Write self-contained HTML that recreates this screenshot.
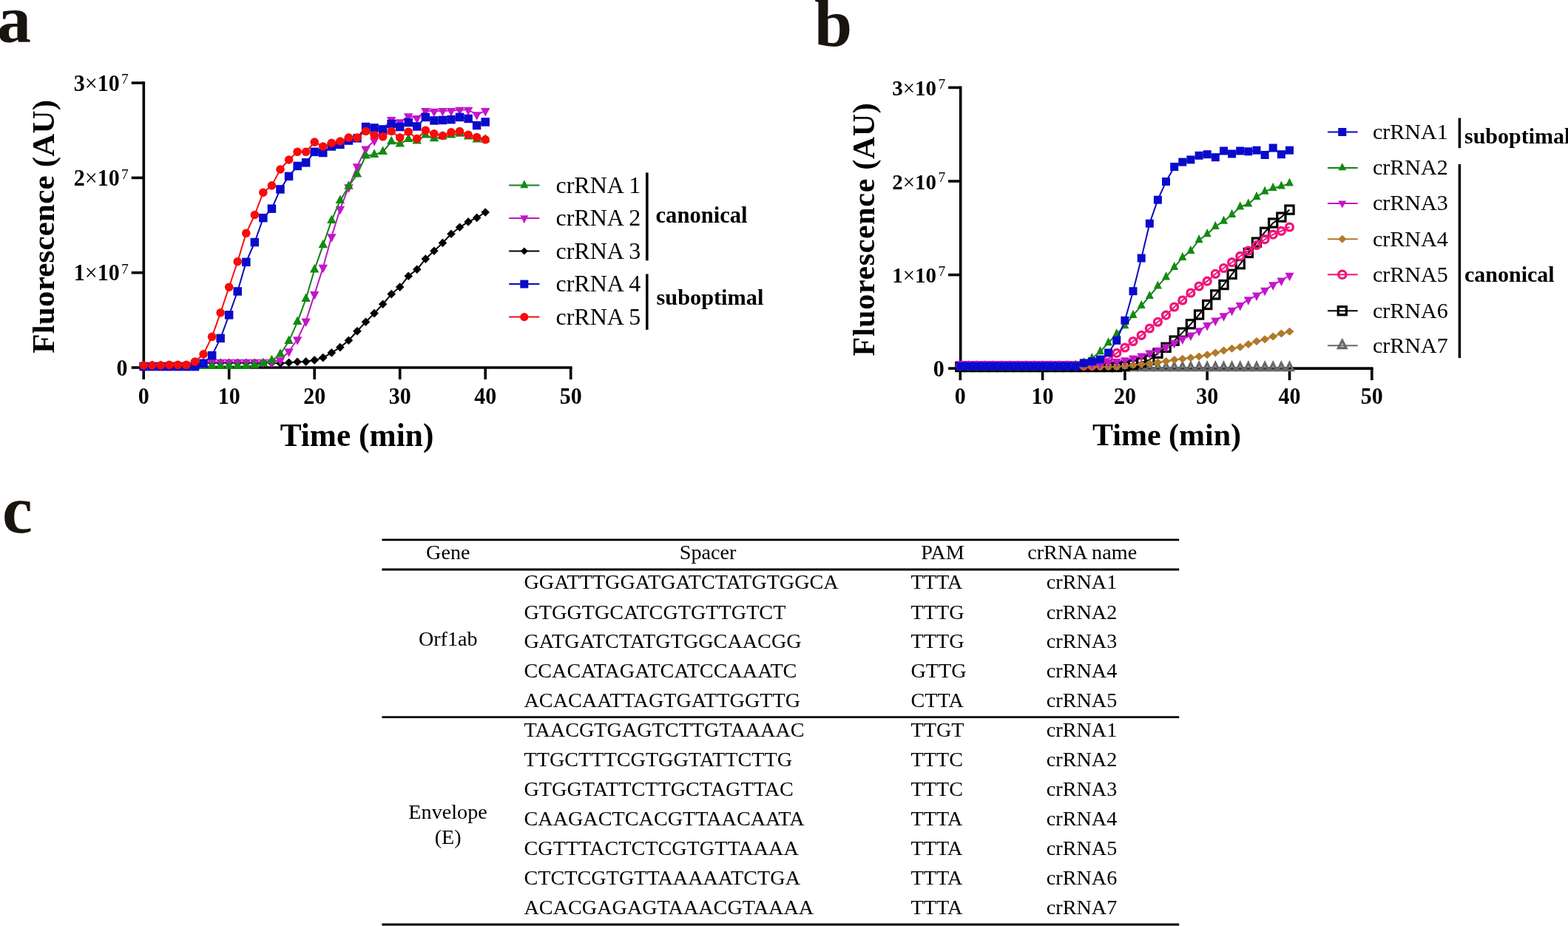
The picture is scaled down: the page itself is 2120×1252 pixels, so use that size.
<!DOCTYPE html>
<html><head><meta charset="utf-8"><title>Figure</title>
<style>
html,body{margin:0;padding:0;background:#fff;}
body{width:2120px;height:1252px;overflow:hidden;}
svg{display:block;}
text{font-family:"Liberation Serif","Times New Roman",serif;}
.b{font-weight:bold;}
</style></head><body>

<svg width="2120" height="1252" viewBox="0 0 2120 1252">
<rect width="2120" height="1252" fill="#fff"/>
<text x="-4" y="57" font-size="92" class="b" fill="#1a140e">a</text>
<text x="1101" y="62" font-size="92" class="b" fill="#1a140e">b</text>
<text x="3" y="719.5" font-size="92" class="b" fill="#1a140e">c</text>
<line x1="194.3" y1="110.3" x2="194.3" y2="498.8" stroke="#000" stroke-width="3.6"/><line x1="192.5" y1="497" x2="773.5" y2="497" stroke="#000" stroke-width="3.6"/><line x1="177.7" y1="112.1" x2="194.3" y2="112.1" stroke="#000" stroke-width="3.6"/><line x1="177.7" y1="240.4" x2="194.3" y2="240.4" stroke="#000" stroke-width="3.6"/><line x1="177.7" y1="368.7" x2="194.3" y2="368.7" stroke="#000" stroke-width="3.6"/><line x1="177.7" y1="497" x2="194.3" y2="497" stroke="#000" stroke-width="3.6"/><line x1="194.2" y1="497" x2="194.2" y2="513" stroke="#000" stroke-width="3.6"/><line x1="309.7" y1="497" x2="309.7" y2="513" stroke="#000" stroke-width="3.6"/><line x1="425.2" y1="497" x2="425.2" y2="513" stroke="#000" stroke-width="3.6"/><line x1="540.7" y1="497" x2="540.7" y2="513" stroke="#000" stroke-width="3.6"/><line x1="656.2" y1="497" x2="656.2" y2="513" stroke="#000" stroke-width="3.6"/><line x1="771.7" y1="497" x2="771.7" y2="513" stroke="#000" stroke-width="3.6"/>
<text transform="translate(161.7,122.7) scale(1,1.05)" text-anchor="end" font-size="30"><tspan class="b">3</tspan>×<tspan class="b">10</tspan></text><text x="164.1" y="113.4" font-size="19.5">7</text>
<text transform="translate(161.7,251) scale(1,1.05)" text-anchor="end" font-size="30"><tspan class="b">2</tspan>×<tspan class="b">10</tspan></text><text x="164.1" y="241.7" font-size="19.5">7</text>
<text transform="translate(161.7,379.3) scale(1,1.05)" text-anchor="end" font-size="30"><tspan class="b">1</tspan>×<tspan class="b">10</tspan></text><text x="164.1" y="370" font-size="19.5">7</text>
<text transform="translate(172.4,507.6) scale(1,1.07)" text-anchor="end" font-size="30" class="b">0</text>
<text transform="translate(194.2,545.7) scale(1,1.07)" text-anchor="middle" font-size="30" class="b">0</text>
<text transform="translate(309.7,545.7) scale(1,1.07)" text-anchor="middle" font-size="30" class="b">10</text>
<text transform="translate(425.2,545.7) scale(1,1.07)" text-anchor="middle" font-size="30" class="b">20</text>
<text transform="translate(540.7,545.7) scale(1,1.07)" text-anchor="middle" font-size="30" class="b">30</text>
<text transform="translate(656.2,545.7) scale(1,1.07)" text-anchor="middle" font-size="30" class="b">40</text>
<text transform="translate(771.7,545.7) scale(1,1.07)" text-anchor="middle" font-size="30" class="b">50</text>
<text x="482.5" y="602.5" text-anchor="middle" font-size="43.4" class="b">Time (min)</text>
<text transform="translate(73,306.2) rotate(-90)" text-anchor="middle" font-size="43" letter-spacing="0.2" class="b">Fluorescence (AU)</text>
<polyline fill="none" stroke="#000" stroke-width="2" stroke-linejoin="round" points="194.2,493.5 205.8,493.5 217.3,493.5 228.8,493.5 240.4,493.5 251.9,493.5 263.5,493.5 275.1,490.6 286.6,490.6 298.1,490.6 309.7,490.6 321.2,490.6 332.8,490.6 344.4,490.6 355.9,490.6 367.4,490.6 379,491.2 390.6,490.3 402.1,489.2 413.6,488.9 425.2,486.9 436.8,483.6 448.3,476.9 459.9,469.6 471.4,460.3 482.9,447.8 494.5,435.3 506.1,423.6 517.6,411.3 529.2,397.6 540.7,388.1 552.2,373.2 563.8,364.3 575.4,350.1 586.9,339.2 598.5,328.4 610,316.2 621.5,307.3 633.1,299.9 644.7,294.4 656.2,287"/><polygon points="194.2,487.7 200,493.5 194.2,499.3 188.4,493.5" fill="#000"/><polygon points="205.8,487.7 211.6,493.5 205.8,499.3 199.9,493.5" fill="#000"/><polygon points="217.3,487.7 223.1,493.5 217.3,499.3 211.5,493.5" fill="#000"/><polygon points="228.8,487.7 234.7,493.5 228.8,499.3 223,493.5" fill="#000"/><polygon points="240.4,487.7 246.2,493.5 240.4,499.3 234.6,493.5" fill="#000"/><polygon points="251.9,487.7 257.8,493.5 251.9,499.3 246.1,493.5" fill="#000"/><polygon points="263.5,487.7 269.3,493.5 263.5,499.3 257.7,493.5" fill="#000"/><polygon points="275.1,484.8 280.9,490.6 275.1,496.4 269.2,490.6" fill="#000"/><polygon points="286.6,484.8 292.4,490.6 286.6,496.4 280.8,490.6" fill="#000"/><polygon points="298.1,484.8 303.9,490.6 298.1,496.4 292.3,490.6" fill="#000"/><polygon points="309.7,484.8 315.5,490.6 309.7,496.4 303.9,490.6" fill="#000"/><polygon points="321.2,484.8 327.1,490.6 321.2,496.4 315.4,490.6" fill="#000"/><polygon points="332.8,484.8 338.6,490.6 332.8,496.4 327,490.6" fill="#000"/><polygon points="344.4,484.8 350.2,490.6 344.4,496.4 338.6,490.6" fill="#000"/><polygon points="355.9,484.8 361.7,490.6 355.9,496.4 350.1,490.6" fill="#000"/><polygon points="367.4,484.8 373.2,490.6 367.4,496.4 361.6,490.6" fill="#000"/><polygon points="379,485.4 384.8,491.2 379,497 373.2,491.2" fill="#000"/><polygon points="390.6,484.5 396.4,490.3 390.6,496.1 384.8,490.3" fill="#000"/><polygon points="402.1,483.4 407.9,489.2 402.1,495 396.3,489.2" fill="#000"/><polygon points="413.6,483.1 419.4,488.9 413.6,494.7 407.8,488.9" fill="#000"/><polygon points="425.2,481.1 431,486.9 425.2,492.7 419.4,486.9" fill="#000"/><polygon points="436.8,477.8 442.6,483.6 436.8,489.4 430.9,483.6" fill="#000"/><polygon points="448.3,471.1 454.1,476.9 448.3,482.7 442.5,476.9" fill="#000"/><polygon points="459.9,463.8 465.7,469.6 459.9,475.4 454.1,469.6" fill="#000"/><polygon points="471.4,454.5 477.2,460.3 471.4,466.1 465.6,460.3" fill="#000"/><polygon points="482.9,442 488.8,447.8 482.9,453.6 477.1,447.8" fill="#000"/><polygon points="494.5,429.5 500.3,435.3 494.5,441.1 488.7,435.3" fill="#000"/><polygon points="506.1,417.8 511.9,423.6 506.1,429.4 500.2,423.6" fill="#000"/><polygon points="517.6,405.5 523.4,411.3 517.6,417.1 511.8,411.3" fill="#000"/><polygon points="529.2,391.8 535,397.6 529.2,403.4 523.4,397.6" fill="#000"/><polygon points="540.7,382.3 546.5,388.1 540.7,393.9 534.9,388.1" fill="#000"/><polygon points="552.2,367.4 558,373.2 552.2,379 546.5,373.2" fill="#000"/><polygon points="563.8,358.5 569.6,364.3 563.8,370.1 558,364.3" fill="#000"/><polygon points="575.4,344.3 581.1,350.1 575.4,355.9 569.6,350.1" fill="#000"/><polygon points="586.9,333.4 592.7,339.2 586.9,345 581.1,339.2" fill="#000"/><polygon points="598.5,322.6 604.2,328.4 598.5,334.2 592.7,328.4" fill="#000"/><polygon points="610,310.4 615.8,316.2 610,322 604.2,316.2" fill="#000"/><polygon points="621.5,301.5 627.3,307.3 621.5,313.1 615.8,307.3" fill="#000"/><polygon points="633.1,294.1 638.9,299.9 633.1,305.7 627.3,299.9" fill="#000"/><polygon points="644.7,288.6 650.5,294.4 644.7,300.2 638.9,294.4" fill="#000"/><polygon points="656.2,281.2 662,287 656.2,292.8 650.4,287" fill="#000"/>
<polyline fill="none" stroke="#bb1ac4" stroke-width="2" stroke-linejoin="round" points="194.2,493.5 205.8,493.5 217.3,493.5 228.8,493.5 240.4,493.5 251.9,493.5 263.5,493.5 275.1,489.6 286.6,489.6 298.1,489.6 309.7,489.6 321.2,489.6 332.8,489.6 344.4,489.6 355.9,489.6 367.4,489.6 379,487 390.6,475 402.1,459 413.6,434.3 425.2,397.9 436.8,361.6 448.3,320 459.9,282.6 471.4,253 482.9,225.1 494.5,201.3 506.1,190.1 517.6,175 529.2,161.7 540.7,165 552.2,157.1 563.8,159.7 575.4,149.8 586.9,150.5 598.5,149.8 610,149.8 621.5,148.5 633.1,148.5 644.7,155.1 656.2,149.8"/><polygon points="194.2,501.2 187.9,489.7 200.4,489.7" fill="#c414cc"/><polygon points="205.8,501.2 199.5,489.7 212,489.7" fill="#c414cc"/><polygon points="217.3,501.2 211,489.7 223.5,489.7" fill="#c414cc"/><polygon points="228.8,501.2 222.6,489.7 235.1,489.7" fill="#c414cc"/><polygon points="240.4,501.2 234.1,489.7 246.6,489.7" fill="#c414cc"/><polygon points="251.9,501.2 245.7,489.7 258.2,489.7" fill="#c414cc"/><polygon points="263.5,501.2 257.2,489.7 269.8,489.7" fill="#c414cc"/><polygon points="275.1,497.3 268.8,485.8 281.3,485.8" fill="#c414cc"/><polygon points="286.6,497.3 280.4,485.8 292.9,485.8" fill="#c414cc"/><polygon points="298.1,497.3 291.9,485.8 304.4,485.8" fill="#c414cc"/><polygon points="309.7,497.3 303.4,485.8 315.9,485.8" fill="#c414cc"/><polygon points="321.2,497.3 315,485.8 327.5,485.8" fill="#c414cc"/><polygon points="332.8,497.3 326.6,485.8 339.1,485.8" fill="#c414cc"/><polygon points="344.4,497.3 338.1,485.8 350.6,485.8" fill="#c414cc"/><polygon points="355.9,497.3 349.6,485.8 362.1,485.8" fill="#c414cc"/><polygon points="367.4,497.3 361.2,485.8 373.7,485.8" fill="#c414cc"/><polygon points="379,494.7 372.8,483.2 385.2,483.2" fill="#c414cc"/><polygon points="390.6,482.7 384.3,471.2 396.8,471.2" fill="#c414cc"/><polygon points="402.1,466.7 395.9,455.2 408.4,455.2" fill="#c414cc"/><polygon points="413.6,442 407.4,430.5 419.9,430.5" fill="#c414cc"/><polygon points="425.2,405.6 418.9,394.1 431.4,394.1" fill="#c414cc"/><polygon points="436.8,369.3 430.5,357.8 443,357.8" fill="#c414cc"/><polygon points="448.3,327.7 442.1,316.2 454.6,316.2" fill="#c414cc"/><polygon points="459.9,290.3 453.6,278.8 466.1,278.8" fill="#c414cc"/><polygon points="471.4,260.7 465.2,249.2 477.7,249.2" fill="#c414cc"/><polygon points="482.9,232.8 476.7,221.3 489.2,221.3" fill="#c414cc"/><polygon points="494.5,209 488.2,197.5 500.8,197.5" fill="#c414cc"/><polygon points="506.1,197.8 499.8,186.3 512.3,186.3" fill="#c414cc"/><polygon points="517.6,182.7 511.4,171.2 523.9,171.2" fill="#c414cc"/><polygon points="529.2,169.4 522.9,157.9 535.4,157.9" fill="#c414cc"/><polygon points="540.7,172.7 534.5,161.2 547,161.2" fill="#c414cc"/><polygon points="552.2,164.8 546,153.3 558.5,153.3" fill="#c414cc"/><polygon points="563.8,167.4 557.5,155.9 570,155.9" fill="#c414cc"/><polygon points="575.4,157.5 569.1,146 581.6,146" fill="#c414cc"/><polygon points="586.9,158.2 580.7,146.7 593.2,146.7" fill="#c414cc"/><polygon points="598.5,157.5 592.2,146 604.7,146" fill="#c414cc"/><polygon points="610,157.5 603.8,146 616.2,146" fill="#c414cc"/><polygon points="621.5,156.2 615.3,144.7 627.8,144.7" fill="#c414cc"/><polygon points="633.1,156.2 626.9,144.7 639.4,144.7" fill="#c414cc"/><polygon points="644.7,162.8 638.4,151.3 650.9,151.3" fill="#c414cc"/><polygon points="656.2,157.5 650,146 662.5,146" fill="#c414cc"/>
<polyline fill="none" stroke="#178017" stroke-width="2" stroke-linejoin="round" points="194.2,495.3 205.8,495.3 217.3,495.3 228.8,495.3 240.4,495.3 251.9,495.3 263.5,495.3 275.1,495.3 286.6,495.3 298.1,495.3 309.7,495.3 321.2,495.3 332.8,495.3 344.4,494 355.9,491.3 367.4,487.5 379,479 390.6,461.3 402.1,435.3 413.6,404.2 425.2,364.7 436.8,331.4 448.3,298.2 459.9,271.2 471.4,252 482.9,235.7 494.5,210.6 506.1,209.2 517.6,205.3 529.2,191.4 540.7,194.7 552.2,188.1 563.8,190.8 575.4,182.8 586.9,187.5 598.5,184.8 610,182.8 621.5,180.9 633.1,184.8 644.7,188.8 656.2,188.8"/><polygon points="194.2,487.6 187.9,499.1 200.4,499.1" fill="#128a12"/><polygon points="205.8,487.6 199.5,499.1 212,499.1" fill="#128a12"/><polygon points="217.3,487.6 211,499.1 223.5,499.1" fill="#128a12"/><polygon points="228.8,487.6 222.6,499.1 235.1,499.1" fill="#128a12"/><polygon points="240.4,487.6 234.1,499.1 246.6,499.1" fill="#128a12"/><polygon points="251.9,487.6 245.7,499.1 258.2,499.1" fill="#128a12"/><polygon points="263.5,487.6 257.2,499.1 269.8,499.1" fill="#128a12"/><polygon points="275.1,487.6 268.8,499.1 281.3,499.1" fill="#128a12"/><polygon points="286.6,487.6 280.4,499.1 292.9,499.1" fill="#128a12"/><polygon points="298.1,487.6 291.9,499.1 304.4,499.1" fill="#128a12"/><polygon points="309.7,487.6 303.4,499.1 315.9,499.1" fill="#128a12"/><polygon points="321.2,487.6 315,499.1 327.5,499.1" fill="#128a12"/><polygon points="332.8,487.6 326.6,499.1 339.1,499.1" fill="#128a12"/><polygon points="344.4,486.3 338.1,497.8 350.6,497.8" fill="#128a12"/><polygon points="355.9,483.6 349.6,495.1 362.1,495.1" fill="#128a12"/><polygon points="367.4,479.8 361.2,491.3 373.7,491.3" fill="#128a12"/><polygon points="379,471.3 372.8,482.8 385.2,482.8" fill="#128a12"/><polygon points="390.6,453.6 384.3,465.1 396.8,465.1" fill="#128a12"/><polygon points="402.1,427.6 395.9,439.1 408.4,439.1" fill="#128a12"/><polygon points="413.6,396.5 407.4,408 419.9,408" fill="#128a12"/><polygon points="425.2,357 418.9,368.5 431.4,368.5" fill="#128a12"/><polygon points="436.8,323.7 430.5,335.2 443,335.2" fill="#128a12"/><polygon points="448.3,290.5 442.1,302 454.6,302" fill="#128a12"/><polygon points="459.9,263.5 453.6,275 466.1,275" fill="#128a12"/><polygon points="471.4,244.3 465.2,255.8 477.7,255.8" fill="#128a12"/><polygon points="482.9,228 476.7,239.5 489.2,239.5" fill="#128a12"/><polygon points="494.5,202.9 488.2,214.4 500.8,214.4" fill="#128a12"/><polygon points="506.1,201.5 499.8,213 512.3,213" fill="#128a12"/><polygon points="517.6,197.6 511.4,209.1 523.9,209.1" fill="#128a12"/><polygon points="529.2,183.7 522.9,195.2 535.4,195.2" fill="#128a12"/><polygon points="540.7,187 534.5,198.5 547,198.5" fill="#128a12"/><polygon points="552.2,180.4 546,191.9 558.5,191.9" fill="#128a12"/><polygon points="563.8,183.1 557.5,194.6 570,194.6" fill="#128a12"/><polygon points="575.4,175.1 569.1,186.6 581.6,186.6" fill="#128a12"/><polygon points="586.9,179.8 580.7,191.3 593.2,191.3" fill="#128a12"/><polygon points="598.5,177.1 592.2,188.6 604.7,188.6" fill="#128a12"/><polygon points="610,175.1 603.8,186.6 616.2,186.6" fill="#128a12"/><polygon points="621.5,173.2 615.3,184.7 627.8,184.7" fill="#128a12"/><polygon points="633.1,177.1 626.9,188.6 639.4,188.6" fill="#128a12"/><polygon points="644.7,181.1 638.4,192.6 650.9,192.6" fill="#128a12"/><polygon points="656.2,181.1 650,192.6 662.5,192.6" fill="#128a12"/>
<polyline fill="none" stroke="#0a0ac0" stroke-width="2" stroke-linejoin="round" points="194.2,495.6 205.8,495.6 217.3,495.6 228.8,495.6 240.4,495.6 251.9,495.6 263.5,495.6 275.1,491.3 286.6,480.6 298.1,457.4 309.7,425.8 321.2,394 332.8,354.4 344.4,327.5 355.9,294.7 367.4,282.2 379,255.9 390.6,238.3 402.1,224.4 413.6,219.8 425.2,205.3 436.8,206.6 448.3,198 459.9,195.4 471.4,190.1 482.9,186.8 494.5,171.6 506.1,172.9 517.6,174.9 529.2,167.6 540.7,171.6 552.2,165.7 563.8,170.9 575.4,158.4 586.9,163 598.5,162.4 610,161.7 621.5,158.4 633.1,160.4 644.7,169.6 656.2,165"/><rect x="188.4" y="489.9" width="11.5" height="11.5" fill="#0a0acc"/><rect x="200" y="489.9" width="11.5" height="11.5" fill="#0a0acc"/><rect x="211.5" y="489.9" width="11.5" height="11.5" fill="#0a0acc"/><rect x="223.1" y="489.9" width="11.5" height="11.5" fill="#0a0acc"/><rect x="234.6" y="489.9" width="11.5" height="11.5" fill="#0a0acc"/><rect x="246.2" y="489.9" width="11.5" height="11.5" fill="#0a0acc"/><rect x="257.8" y="489.9" width="11.5" height="11.5" fill="#0a0acc"/><rect x="269.3" y="485.6" width="11.5" height="11.5" fill="#0a0acc"/><rect x="280.9" y="474.9" width="11.5" height="11.5" fill="#0a0acc"/><rect x="292.4" y="451.6" width="11.5" height="11.5" fill="#0a0acc"/><rect x="303.9" y="420.1" width="11.5" height="11.5" fill="#0a0acc"/><rect x="315.5" y="388.2" width="11.5" height="11.5" fill="#0a0acc"/><rect x="327.1" y="348.6" width="11.5" height="11.5" fill="#0a0acc"/><rect x="338.6" y="321.8" width="11.5" height="11.5" fill="#0a0acc"/><rect x="350.1" y="288.9" width="11.5" height="11.5" fill="#0a0acc"/><rect x="361.7" y="276.4" width="11.5" height="11.5" fill="#0a0acc"/><rect x="373.2" y="250.2" width="11.5" height="11.5" fill="#0a0acc"/><rect x="384.8" y="232.6" width="11.5" height="11.5" fill="#0a0acc"/><rect x="396.4" y="218.7" width="11.5" height="11.5" fill="#0a0acc"/><rect x="407.9" y="214.1" width="11.5" height="11.5" fill="#0a0acc"/><rect x="419.4" y="199.6" width="11.5" height="11.5" fill="#0a0acc"/><rect x="431" y="200.8" width="11.5" height="11.5" fill="#0a0acc"/><rect x="442.6" y="192.2" width="11.5" height="11.5" fill="#0a0acc"/><rect x="454.1" y="189.7" width="11.5" height="11.5" fill="#0a0acc"/><rect x="465.7" y="184.3" width="11.5" height="11.5" fill="#0a0acc"/><rect x="477.2" y="181.1" width="11.5" height="11.5" fill="#0a0acc"/><rect x="488.8" y="165.8" width="11.5" height="11.5" fill="#0a0acc"/><rect x="500.3" y="167.2" width="11.5" height="11.5" fill="#0a0acc"/><rect x="511.9" y="169.2" width="11.5" height="11.5" fill="#0a0acc"/><rect x="523.4" y="161.8" width="11.5" height="11.5" fill="#0a0acc"/><rect x="535" y="165.8" width="11.5" height="11.5" fill="#0a0acc"/><rect x="546.5" y="159.9" width="11.5" height="11.5" fill="#0a0acc"/><rect x="558" y="165.2" width="11.5" height="11.5" fill="#0a0acc"/><rect x="569.6" y="152.7" width="11.5" height="11.5" fill="#0a0acc"/><rect x="581.2" y="157.2" width="11.5" height="11.5" fill="#0a0acc"/><rect x="592.7" y="156.7" width="11.5" height="11.5" fill="#0a0acc"/><rect x="604.2" y="155.9" width="11.5" height="11.5" fill="#0a0acc"/><rect x="615.8" y="152.7" width="11.5" height="11.5" fill="#0a0acc"/><rect x="627.4" y="154.7" width="11.5" height="11.5" fill="#0a0acc"/><rect x="638.9" y="163.8" width="11.5" height="11.5" fill="#0a0acc"/><rect x="650.5" y="159.2" width="11.5" height="11.5" fill="#0a0acc"/>
<polyline fill="none" stroke="#f01010" stroke-width="2" stroke-linejoin="round" points="194.2,494 205.8,494 217.3,494 228.8,493.4 240.4,493.4 251.9,493.4 263.5,489 275.1,478.9 286.6,455.3 298.1,422.8 309.7,388.2 321.2,353.7 332.8,315.3 344.4,290.5 355.9,260.2 367.4,250.9 379,229 390.6,216 402.1,205.3 413.6,205.3 425.2,192.1 436.8,198 448.3,193.4 459.9,191 471.4,186.1 482.9,186.1 494.5,177.5 506.1,182.8 517.6,184.8 529.2,177.5 540.7,186.1 552.2,178.2 563.8,187.5 575.4,176.2 586.9,180.9 598.5,183.5 610,178.9 621.5,177.5 633.1,182.2 644.7,185.5 656.2,188.8"/><circle cx="194.2" cy="494" r="5.8" fill="#fa0a0a"/><circle cx="205.8" cy="494" r="5.8" fill="#fa0a0a"/><circle cx="217.3" cy="494" r="5.8" fill="#fa0a0a"/><circle cx="228.8" cy="493.4" r="5.8" fill="#fa0a0a"/><circle cx="240.4" cy="493.4" r="5.8" fill="#fa0a0a"/><circle cx="251.9" cy="493.4" r="5.8" fill="#fa0a0a"/><circle cx="263.5" cy="489" r="5.8" fill="#fa0a0a"/><circle cx="275.1" cy="478.9" r="5.8" fill="#fa0a0a"/><circle cx="286.6" cy="455.3" r="5.8" fill="#fa0a0a"/><circle cx="298.1" cy="422.8" r="5.8" fill="#fa0a0a"/><circle cx="309.7" cy="388.2" r="5.8" fill="#fa0a0a"/><circle cx="321.2" cy="353.7" r="5.8" fill="#fa0a0a"/><circle cx="332.8" cy="315.3" r="5.8" fill="#fa0a0a"/><circle cx="344.4" cy="290.5" r="5.8" fill="#fa0a0a"/><circle cx="355.9" cy="260.2" r="5.8" fill="#fa0a0a"/><circle cx="367.4" cy="250.9" r="5.8" fill="#fa0a0a"/><circle cx="379" cy="229" r="5.8" fill="#fa0a0a"/><circle cx="390.6" cy="216" r="5.8" fill="#fa0a0a"/><circle cx="402.1" cy="205.3" r="5.8" fill="#fa0a0a"/><circle cx="413.6" cy="205.3" r="5.8" fill="#fa0a0a"/><circle cx="425.2" cy="192.1" r="5.8" fill="#fa0a0a"/><circle cx="436.8" cy="198" r="5.8" fill="#fa0a0a"/><circle cx="448.3" cy="193.4" r="5.8" fill="#fa0a0a"/><circle cx="459.9" cy="191" r="5.8" fill="#fa0a0a"/><circle cx="471.4" cy="186.1" r="5.8" fill="#fa0a0a"/><circle cx="482.9" cy="186.1" r="5.8" fill="#fa0a0a"/><circle cx="494.5" cy="177.5" r="5.8" fill="#fa0a0a"/><circle cx="506.1" cy="182.8" r="5.8" fill="#fa0a0a"/><circle cx="517.6" cy="184.8" r="5.8" fill="#fa0a0a"/><circle cx="529.2" cy="177.5" r="5.8" fill="#fa0a0a"/><circle cx="540.7" cy="186.1" r="5.8" fill="#fa0a0a"/><circle cx="552.2" cy="178.2" r="5.8" fill="#fa0a0a"/><circle cx="563.8" cy="187.5" r="5.8" fill="#fa0a0a"/><circle cx="575.4" cy="176.2" r="5.8" fill="#fa0a0a"/><circle cx="586.9" cy="180.9" r="5.8" fill="#fa0a0a"/><circle cx="598.5" cy="183.5" r="5.8" fill="#fa0a0a"/><circle cx="610" cy="178.9" r="5.8" fill="#fa0a0a"/><circle cx="621.5" cy="177.5" r="5.8" fill="#fa0a0a"/><circle cx="633.1" cy="182.2" r="5.8" fill="#fa0a0a"/><circle cx="644.7" cy="185.5" r="5.8" fill="#fa0a0a"/><circle cx="656.2" cy="188.8" r="5.8" fill="#fa0a0a"/>
<line x1="688.2" y1="250.5" x2="729.4" y2="250.5" stroke="#178017" stroke-width="2"/>
<polygon points="708.8,243.2 703.3,254.2 714.3,254.2" fill="#128a12"/>
<text x="751.5" y="260.5" font-size="32">crRNA 1</text>
<line x1="688.2" y1="295" x2="729.4" y2="295" stroke="#bb1ac4" stroke-width="2"/>
<polygon points="708.8,302.3 703.3,291.3 714.3,291.3" fill="#c414cc"/>
<text x="751.5" y="305" font-size="32">crRNA 2</text>
<line x1="688.2" y1="339.6" x2="729.4" y2="339.6" stroke="#000" stroke-width="2"/>
<polygon points="708.8,334.6 713.8,339.6 708.8,344.6 703.8,339.6" fill="#000"/>
<text x="751.5" y="349.6" font-size="32">crRNA 3</text>
<line x1="688.2" y1="384.1" x2="729.4" y2="384.1" stroke="#0a0ac0" stroke-width="2"/>
<rect x="703.3" y="378.6" width="11" height="11" fill="#0a0acc"/>
<text x="751.5" y="394.1" font-size="32">crRNA 4</text>
<line x1="688.2" y1="428.6" x2="729.4" y2="428.6" stroke="#f01010" stroke-width="2"/>
<circle cx="708.8" cy="428.6" r="5.6" fill="#fa0a0a"/>
<text x="751.5" y="438.6" font-size="32">crRNA 5</text>
<line x1="874.8" y1="233.4" x2="874.8" y2="352.3" stroke="#000" stroke-width="3.6"/>
<line x1="874.8" y1="370.5" x2="874.8" y2="445.8" stroke="#000" stroke-width="3.5"/>
<text x="886.5" y="300.5" font-size="30.6" class="b">canonical</text>
<text x="887.5" y="411.7" font-size="30.3" class="b">suboptimal</text>
<line x1="1298.7" y1="116.6" x2="1298.7" y2="499.9" stroke="#000" stroke-width="3.6"/><line x1="1296.9" y1="498.1" x2="1856.6" y2="498.1" stroke="#000" stroke-width="3.6"/><line x1="1282.1" y1="118.4" x2="1298.7" y2="118.4" stroke="#000" stroke-width="3.6"/><line x1="1282.1" y1="245" x2="1298.7" y2="245" stroke="#000" stroke-width="3.6"/><line x1="1282.1" y1="371.6" x2="1298.7" y2="371.6" stroke="#000" stroke-width="3.6"/><line x1="1282.1" y1="498.1" x2="1298.7" y2="498.1" stroke="#000" stroke-width="3.6"/><line x1="1298.3" y1="498.1" x2="1298.3" y2="514.1" stroke="#000" stroke-width="3.6"/><line x1="1409.6" y1="498.1" x2="1409.6" y2="514.1" stroke="#000" stroke-width="3.6"/><line x1="1520.9" y1="498.1" x2="1520.9" y2="514.1" stroke="#000" stroke-width="3.6"/><line x1="1632.2" y1="498.1" x2="1632.2" y2="514.1" stroke="#000" stroke-width="3.6"/><line x1="1743.5" y1="498.1" x2="1743.5" y2="514.1" stroke="#000" stroke-width="3.6"/><line x1="1854.8" y1="498.1" x2="1854.8" y2="514.1" stroke="#000" stroke-width="3.6"/>
<text transform="translate(1266.1,129) scale(1,1.05)" text-anchor="end" font-size="29"><tspan class="b">3</tspan>×<tspan class="b">10</tspan></text><text x="1268.5" y="119.7" font-size="19.5">7</text>
<text transform="translate(1266.1,255.6) scale(1,1.05)" text-anchor="end" font-size="29"><tspan class="b">2</tspan>×<tspan class="b">10</tspan></text><text x="1268.5" y="246.3" font-size="19.5">7</text>
<text transform="translate(1266.1,382.2) scale(1,1.05)" text-anchor="end" font-size="29"><tspan class="b">1</tspan>×<tspan class="b">10</tspan></text><text x="1268.5" y="372.9" font-size="19.5">7</text>
<text transform="translate(1276.8,508.7) scale(1,1.07)" text-anchor="end" font-size="30" class="b">0</text>
<text transform="translate(1298.3,545.7) scale(1,1.07)" text-anchor="middle" font-size="30" class="b">0</text>
<text transform="translate(1409.6,545.7) scale(1,1.07)" text-anchor="middle" font-size="30" class="b">10</text>
<text transform="translate(1520.9,545.7) scale(1,1.07)" text-anchor="middle" font-size="30" class="b">20</text>
<text transform="translate(1632.2,545.7) scale(1,1.07)" text-anchor="middle" font-size="30" class="b">30</text>
<text transform="translate(1743.5,545.7) scale(1,1.07)" text-anchor="middle" font-size="30" class="b">40</text>
<text transform="translate(1854.8,545.7) scale(1,1.07)" text-anchor="middle" font-size="30" class="b">50</text>
<text x="1577.5" y="601.8" text-anchor="middle" font-size="42" class="b">Time (min)</text>
<text transform="translate(1182,310) rotate(-90)" text-anchor="middle" font-size="42" letter-spacing="0.66" class="b">Fluorescence (AU)</text>
<polyline fill="none" stroke="#686868" stroke-width="2" stroke-linejoin="round" points="1298.3,497.3 1309.4,497.3 1320.6,497.3 1331.7,497.3 1342.8,497.3 1354,497.3 1365.1,497.3 1376.2,497.3 1387.3,497.3 1398.5,497.3 1409.6,497.3 1420.7,497.3 1431.9,497.3 1443,497.3 1454.1,497.3 1465.2,497.3 1476.4,497.3 1487.5,497.3 1498.6,497.3 1509.8,497.3 1520.9,497.3 1532,497.3 1543.2,497.3 1554.3,497.3 1565.4,497.3 1576.5,497.3 1587.7,497.3 1598.8,497.3 1609.9,497.3 1621.1,497.3 1632.2,497.3 1643.3,497.3 1654.5,497.3 1665.6,497.3 1676.7,497.3 1687.8,497.3 1699,497.3 1710.1,497.3 1721.2,497.3 1732.4,497.3 1743.5,497.3"/><polygon points="1298.3,490.7 1293.4,500.6 1303.2,500.6" fill="none" stroke="#686868" stroke-width="3.3" stroke-linejoin="miter"/><polygon points="1309.4,490.7 1304.5,500.6 1314.3,500.6" fill="none" stroke="#686868" stroke-width="3.3" stroke-linejoin="miter"/><polygon points="1320.6,490.7 1315.7,500.6 1325.5,500.6" fill="none" stroke="#686868" stroke-width="3.3" stroke-linejoin="miter"/><polygon points="1331.7,490.7 1326.8,500.6 1336.6,500.6" fill="none" stroke="#686868" stroke-width="3.3" stroke-linejoin="miter"/><polygon points="1342.8,490.7 1337.9,500.6 1347.7,500.6" fill="none" stroke="#686868" stroke-width="3.3" stroke-linejoin="miter"/><polygon points="1354,490.7 1349,500.6 1358.9,500.6" fill="none" stroke="#686868" stroke-width="3.3" stroke-linejoin="miter"/><polygon points="1365.1,490.7 1360.2,500.6 1370,500.6" fill="none" stroke="#686868" stroke-width="3.3" stroke-linejoin="miter"/><polygon points="1376.2,490.7 1371.3,500.6 1381.1,500.6" fill="none" stroke="#686868" stroke-width="3.3" stroke-linejoin="miter"/><polygon points="1387.3,490.7 1382.4,500.6 1392.2,500.6" fill="none" stroke="#686868" stroke-width="3.3" stroke-linejoin="miter"/><polygon points="1398.5,490.7 1393.6,500.6 1403.4,500.6" fill="none" stroke="#686868" stroke-width="3.3" stroke-linejoin="miter"/><polygon points="1409.6,490.7 1404.7,500.6 1414.5,500.6" fill="none" stroke="#686868" stroke-width="3.3" stroke-linejoin="miter"/><polygon points="1420.7,490.7 1415.8,500.6 1425.6,500.6" fill="none" stroke="#686868" stroke-width="3.3" stroke-linejoin="miter"/><polygon points="1431.9,490.7 1427,500.6 1436.8,500.6" fill="none" stroke="#686868" stroke-width="3.3" stroke-linejoin="miter"/><polygon points="1443,490.7 1438.1,500.6 1447.9,500.6" fill="none" stroke="#686868" stroke-width="3.3" stroke-linejoin="miter"/><polygon points="1454.1,490.7 1449.2,500.6 1459,500.6" fill="none" stroke="#686868" stroke-width="3.3" stroke-linejoin="miter"/><polygon points="1465.2,490.7 1460.3,500.6 1470.2,500.6" fill="none" stroke="#686868" stroke-width="3.3" stroke-linejoin="miter"/><polygon points="1476.4,490.7 1471.5,500.6 1481.3,500.6" fill="none" stroke="#686868" stroke-width="3.3" stroke-linejoin="miter"/><polygon points="1487.5,490.7 1482.6,500.6 1492.4,500.6" fill="none" stroke="#686868" stroke-width="3.3" stroke-linejoin="miter"/><polygon points="1498.6,490.7 1493.7,500.6 1503.5,500.6" fill="none" stroke="#686868" stroke-width="3.3" stroke-linejoin="miter"/><polygon points="1509.8,490.7 1504.9,500.6 1514.7,500.6" fill="none" stroke="#686868" stroke-width="3.3" stroke-linejoin="miter"/><polygon points="1520.9,490.7 1516,500.6 1525.8,500.6" fill="none" stroke="#686868" stroke-width="3.3" stroke-linejoin="miter"/><polygon points="1532,490.7 1527.1,500.6 1536.9,500.6" fill="none" stroke="#686868" stroke-width="3.3" stroke-linejoin="miter"/><polygon points="1543.2,490.7 1538.3,500.6 1548.1,500.6" fill="none" stroke="#686868" stroke-width="3.3" stroke-linejoin="miter"/><polygon points="1554.3,490.7 1549.4,500.6 1559.2,500.6" fill="none" stroke="#686868" stroke-width="3.3" stroke-linejoin="miter"/><polygon points="1565.4,490.7 1560.5,500.6 1570.3,500.6" fill="none" stroke="#686868" stroke-width="3.3" stroke-linejoin="miter"/><polygon points="1576.5,490.7 1571.6,500.6 1581.5,500.6" fill="none" stroke="#686868" stroke-width="3.3" stroke-linejoin="miter"/><polygon points="1587.7,490.7 1582.8,500.6 1592.6,500.6" fill="none" stroke="#686868" stroke-width="3.3" stroke-linejoin="miter"/><polygon points="1598.8,490.7 1593.9,500.6 1603.7,500.6" fill="none" stroke="#686868" stroke-width="3.3" stroke-linejoin="miter"/><polygon points="1609.9,490.7 1605,500.6 1614.8,500.6" fill="none" stroke="#686868" stroke-width="3.3" stroke-linejoin="miter"/><polygon points="1621.1,490.7 1616.2,500.6 1626,500.6" fill="none" stroke="#686868" stroke-width="3.3" stroke-linejoin="miter"/><polygon points="1632.2,490.7 1627.3,500.6 1637.1,500.6" fill="none" stroke="#686868" stroke-width="3.3" stroke-linejoin="miter"/><polygon points="1643.3,490.7 1638.4,500.6 1648.2,500.6" fill="none" stroke="#686868" stroke-width="3.3" stroke-linejoin="miter"/><polygon points="1654.5,490.7 1649.6,500.6 1659.4,500.6" fill="none" stroke="#686868" stroke-width="3.3" stroke-linejoin="miter"/><polygon points="1665.6,490.7 1660.7,500.6 1670.5,500.6" fill="none" stroke="#686868" stroke-width="3.3" stroke-linejoin="miter"/><polygon points="1676.7,490.7 1671.8,500.6 1681.6,500.6" fill="none" stroke="#686868" stroke-width="3.3" stroke-linejoin="miter"/><polygon points="1687.8,490.7 1682.9,500.6 1692.8,500.6" fill="none" stroke="#686868" stroke-width="3.3" stroke-linejoin="miter"/><polygon points="1699,490.7 1694.1,500.6 1703.9,500.6" fill="none" stroke="#686868" stroke-width="3.3" stroke-linejoin="miter"/><polygon points="1710.1,490.7 1705.2,500.6 1715,500.6" fill="none" stroke="#686868" stroke-width="3.3" stroke-linejoin="miter"/><polygon points="1721.2,490.7 1716.3,500.6 1726.1,500.6" fill="none" stroke="#686868" stroke-width="3.3" stroke-linejoin="miter"/><polygon points="1732.4,490.7 1727.5,500.6 1737.3,500.6" fill="none" stroke="#686868" stroke-width="3.3" stroke-linejoin="miter"/><polygon points="1743.5,490.7 1738.6,500.6 1748.4,500.6" fill="none" stroke="#686868" stroke-width="3.3" stroke-linejoin="miter"/>
<polyline fill="none" stroke="#000" stroke-width="2" stroke-linejoin="round" points="1298.3,496 1309.4,496 1320.6,496 1331.7,496 1342.8,496 1354,496 1365.1,496 1376.2,496 1387.3,496 1398.5,496 1409.6,496 1420.7,496 1431.9,496 1443,496 1454.1,496 1465.2,496 1476.4,496 1487.5,496 1498.6,496 1509.8,496 1520.9,495 1532,493 1543.2,490 1554.3,486.5 1565.4,477.7 1576.5,469.8 1587.7,460.6 1598.8,449.6 1609.9,438.2 1621.1,425.5 1632.2,412 1643.3,398.4 1654.5,385 1665.6,370.8 1676.7,357.2 1687.8,341.9 1699,327.6 1710.1,313.8 1721.2,301.5 1732.4,293.6 1743.5,283.6"/><rect x="1292.7" y="490.4" width="11.2" height="11.2" fill="none" stroke="#000" stroke-width="3.2"/><rect x="1303.8" y="490.4" width="11.2" height="11.2" fill="none" stroke="#000" stroke-width="3.2"/><rect x="1315" y="490.4" width="11.2" height="11.2" fill="none" stroke="#000" stroke-width="3.2"/><rect x="1326.1" y="490.4" width="11.2" height="11.2" fill="none" stroke="#000" stroke-width="3.2"/><rect x="1337.2" y="490.4" width="11.2" height="11.2" fill="none" stroke="#000" stroke-width="3.2"/><rect x="1348.4" y="490.4" width="11.2" height="11.2" fill="none" stroke="#000" stroke-width="3.2"/><rect x="1359.5" y="490.4" width="11.2" height="11.2" fill="none" stroke="#000" stroke-width="3.2"/><rect x="1370.6" y="490.4" width="11.2" height="11.2" fill="none" stroke="#000" stroke-width="3.2"/><rect x="1381.7" y="490.4" width="11.2" height="11.2" fill="none" stroke="#000" stroke-width="3.2"/><rect x="1392.9" y="490.4" width="11.2" height="11.2" fill="none" stroke="#000" stroke-width="3.2"/><rect x="1404" y="490.4" width="11.2" height="11.2" fill="none" stroke="#000" stroke-width="3.2"/><rect x="1415.1" y="490.4" width="11.2" height="11.2" fill="none" stroke="#000" stroke-width="3.2"/><rect x="1426.3" y="490.4" width="11.2" height="11.2" fill="none" stroke="#000" stroke-width="3.2"/><rect x="1437.4" y="490.4" width="11.2" height="11.2" fill="none" stroke="#000" stroke-width="3.2"/><rect x="1448.5" y="490.4" width="11.2" height="11.2" fill="none" stroke="#000" stroke-width="3.2"/><rect x="1459.7" y="490.4" width="11.2" height="11.2" fill="none" stroke="#000" stroke-width="3.2"/><rect x="1470.8" y="490.4" width="11.2" height="11.2" fill="none" stroke="#000" stroke-width="3.2"/><rect x="1481.9" y="490.4" width="11.2" height="11.2" fill="none" stroke="#000" stroke-width="3.2"/><rect x="1493" y="490.4" width="11.2" height="11.2" fill="none" stroke="#000" stroke-width="3.2"/><rect x="1504.2" y="490.4" width="11.2" height="11.2" fill="none" stroke="#000" stroke-width="3.2"/><rect x="1515.3" y="489.4" width="11.2" height="11.2" fill="none" stroke="#000" stroke-width="3.2"/><rect x="1526.4" y="487.4" width="11.2" height="11.2" fill="none" stroke="#000" stroke-width="3.2"/><rect x="1537.6" y="484.4" width="11.2" height="11.2" fill="none" stroke="#000" stroke-width="3.2"/><rect x="1548.7" y="480.9" width="11.2" height="11.2" fill="none" stroke="#000" stroke-width="3.2"/><rect x="1559.8" y="472.1" width="11.2" height="11.2" fill="none" stroke="#000" stroke-width="3.2"/><rect x="1571" y="464.2" width="11.2" height="11.2" fill="none" stroke="#000" stroke-width="3.2"/><rect x="1582.1" y="455" width="11.2" height="11.2" fill="none" stroke="#000" stroke-width="3.2"/><rect x="1593.2" y="444" width="11.2" height="11.2" fill="none" stroke="#000" stroke-width="3.2"/><rect x="1604.3" y="432.6" width="11.2" height="11.2" fill="none" stroke="#000" stroke-width="3.2"/><rect x="1615.5" y="419.9" width="11.2" height="11.2" fill="none" stroke="#000" stroke-width="3.2"/><rect x="1626.6" y="406.4" width="11.2" height="11.2" fill="none" stroke="#000" stroke-width="3.2"/><rect x="1637.7" y="392.8" width="11.2" height="11.2" fill="none" stroke="#000" stroke-width="3.2"/><rect x="1648.9" y="379.4" width="11.2" height="11.2" fill="none" stroke="#000" stroke-width="3.2"/><rect x="1660" y="365.2" width="11.2" height="11.2" fill="none" stroke="#000" stroke-width="3.2"/><rect x="1671.1" y="351.6" width="11.2" height="11.2" fill="none" stroke="#000" stroke-width="3.2"/><rect x="1682.2" y="336.3" width="11.2" height="11.2" fill="none" stroke="#000" stroke-width="3.2"/><rect x="1693.4" y="322" width="11.2" height="11.2" fill="none" stroke="#000" stroke-width="3.2"/><rect x="1704.5" y="308.2" width="11.2" height="11.2" fill="none" stroke="#000" stroke-width="3.2"/><rect x="1715.6" y="295.9" width="11.2" height="11.2" fill="none" stroke="#000" stroke-width="3.2"/><rect x="1726.8" y="288" width="11.2" height="11.2" fill="none" stroke="#000" stroke-width="3.2"/><rect x="1737.9" y="278" width="11.2" height="11.2" fill="none" stroke="#000" stroke-width="3.2"/>
<polyline fill="none" stroke="#f0157a" stroke-width="2" stroke-linejoin="round" points="1298.3,494.3 1309.4,494.3 1320.6,494.3 1331.7,494.3 1342.8,494.3 1354,494.3 1365.1,494.3 1376.2,494.3 1387.3,494.3 1398.5,494.3 1409.6,494.3 1420.7,494.3 1431.9,494.3 1443,494.3 1454.1,494.3 1465.2,494.3 1476.4,494.3 1487.5,489 1498.6,484.8 1509.8,477.4 1520.9,470 1532,461.5 1543.2,453.3 1554.3,444 1565.4,435.3 1576.5,426.2 1587.7,415 1598.8,406 1609.9,396 1621.1,387 1632.2,380.2 1643.3,370.3 1654.5,362.5 1665.6,354.7 1676.7,346.4 1687.8,339 1699,331.5 1710.1,323.7 1721.2,317.2 1732.4,312.4 1743.5,307"/><circle cx="1298.3" cy="494.3" r="4.9" fill="none" stroke="#f0157a" stroke-width="3.4"/><circle cx="1309.4" cy="494.3" r="4.9" fill="none" stroke="#f0157a" stroke-width="3.4"/><circle cx="1320.6" cy="494.3" r="4.9" fill="none" stroke="#f0157a" stroke-width="3.4"/><circle cx="1331.7" cy="494.3" r="4.9" fill="none" stroke="#f0157a" stroke-width="3.4"/><circle cx="1342.8" cy="494.3" r="4.9" fill="none" stroke="#f0157a" stroke-width="3.4"/><circle cx="1354" cy="494.3" r="4.9" fill="none" stroke="#f0157a" stroke-width="3.4"/><circle cx="1365.1" cy="494.3" r="4.9" fill="none" stroke="#f0157a" stroke-width="3.4"/><circle cx="1376.2" cy="494.3" r="4.9" fill="none" stroke="#f0157a" stroke-width="3.4"/><circle cx="1387.3" cy="494.3" r="4.9" fill="none" stroke="#f0157a" stroke-width="3.4"/><circle cx="1398.5" cy="494.3" r="4.9" fill="none" stroke="#f0157a" stroke-width="3.4"/><circle cx="1409.6" cy="494.3" r="4.9" fill="none" stroke="#f0157a" stroke-width="3.4"/><circle cx="1420.7" cy="494.3" r="4.9" fill="none" stroke="#f0157a" stroke-width="3.4"/><circle cx="1431.9" cy="494.3" r="4.9" fill="none" stroke="#f0157a" stroke-width="3.4"/><circle cx="1443" cy="494.3" r="4.9" fill="none" stroke="#f0157a" stroke-width="3.4"/><circle cx="1454.1" cy="494.3" r="4.9" fill="none" stroke="#f0157a" stroke-width="3.4"/><circle cx="1465.2" cy="494.3" r="4.9" fill="none" stroke="#f0157a" stroke-width="3.4"/><circle cx="1476.4" cy="494.3" r="4.9" fill="none" stroke="#f0157a" stroke-width="3.4"/><circle cx="1487.5" cy="489" r="4.9" fill="none" stroke="#f0157a" stroke-width="3.4"/><circle cx="1498.6" cy="484.8" r="4.9" fill="none" stroke="#f0157a" stroke-width="3.4"/><circle cx="1509.8" cy="477.4" r="4.9" fill="none" stroke="#f0157a" stroke-width="3.4"/><circle cx="1520.9" cy="470" r="4.9" fill="none" stroke="#f0157a" stroke-width="3.4"/><circle cx="1532" cy="461.5" r="4.9" fill="none" stroke="#f0157a" stroke-width="3.4"/><circle cx="1543.2" cy="453.3" r="4.9" fill="none" stroke="#f0157a" stroke-width="3.4"/><circle cx="1554.3" cy="444" r="4.9" fill="none" stroke="#f0157a" stroke-width="3.4"/><circle cx="1565.4" cy="435.3" r="4.9" fill="none" stroke="#f0157a" stroke-width="3.4"/><circle cx="1576.5" cy="426.2" r="4.9" fill="none" stroke="#f0157a" stroke-width="3.4"/><circle cx="1587.7" cy="415" r="4.9" fill="none" stroke="#f0157a" stroke-width="3.4"/><circle cx="1598.8" cy="406" r="4.9" fill="none" stroke="#f0157a" stroke-width="3.4"/><circle cx="1609.9" cy="396" r="4.9" fill="none" stroke="#f0157a" stroke-width="3.4"/><circle cx="1621.1" cy="387" r="4.9" fill="none" stroke="#f0157a" stroke-width="3.4"/><circle cx="1632.2" cy="380.2" r="4.9" fill="none" stroke="#f0157a" stroke-width="3.4"/><circle cx="1643.3" cy="370.3" r="4.9" fill="none" stroke="#f0157a" stroke-width="3.4"/><circle cx="1654.5" cy="362.5" r="4.9" fill="none" stroke="#f0157a" stroke-width="3.4"/><circle cx="1665.6" cy="354.7" r="4.9" fill="none" stroke="#f0157a" stroke-width="3.4"/><circle cx="1676.7" cy="346.4" r="4.9" fill="none" stroke="#f0157a" stroke-width="3.4"/><circle cx="1687.8" cy="339" r="4.9" fill="none" stroke="#f0157a" stroke-width="3.4"/><circle cx="1699" cy="331.5" r="4.9" fill="none" stroke="#f0157a" stroke-width="3.4"/><circle cx="1710.1" cy="323.7" r="4.9" fill="none" stroke="#f0157a" stroke-width="3.4"/><circle cx="1721.2" cy="317.2" r="4.9" fill="none" stroke="#f0157a" stroke-width="3.4"/><circle cx="1732.4" cy="312.4" r="4.9" fill="none" stroke="#f0157a" stroke-width="3.4"/><circle cx="1743.5" cy="307" r="4.9" fill="none" stroke="#f0157a" stroke-width="3.4"/>
<polyline fill="none" stroke="#b07a28" stroke-width="2" stroke-linejoin="round" points="1298.3,496 1309.4,496 1320.6,496 1331.7,496 1342.8,496 1354,496 1365.1,496 1376.2,496 1387.3,496 1398.5,496 1409.6,496 1420.7,496 1431.9,496 1443,496 1454.1,496 1465.2,496 1476.4,496 1487.5,496 1498.6,496 1509.8,496 1520.9,494.8 1532,493.5 1543.2,492.5 1554.3,491.4 1565.4,490 1576.5,488.4 1587.7,486.5 1598.8,485.3 1609.9,483.8 1621.1,481.9 1632.2,479.8 1643.3,477 1654.5,474.1 1665.6,471.2 1676.7,469.3 1687.8,465.4 1699,461.6 1710.1,458.7 1721.2,454.9 1732.4,451.1 1743.5,448.2"/><polygon points="1298.3,490.5 1304.3,496 1298.3,501.5 1292.3,496" fill="#b07a28"/><polygon points="1309.4,490.5 1315.4,496 1309.4,501.5 1303.4,496" fill="#b07a28"/><polygon points="1320.6,490.5 1326.6,496 1320.6,501.5 1314.6,496" fill="#b07a28"/><polygon points="1331.7,490.5 1337.7,496 1331.7,501.5 1325.7,496" fill="#b07a28"/><polygon points="1342.8,490.5 1348.8,496 1342.8,501.5 1336.8,496" fill="#b07a28"/><polygon points="1354,490.5 1360,496 1354,501.5 1348,496" fill="#b07a28"/><polygon points="1365.1,490.5 1371.1,496 1365.1,501.5 1359.1,496" fill="#b07a28"/><polygon points="1376.2,490.5 1382.2,496 1376.2,501.5 1370.2,496" fill="#b07a28"/><polygon points="1387.3,490.5 1393.3,496 1387.3,501.5 1381.3,496" fill="#b07a28"/><polygon points="1398.5,490.5 1404.5,496 1398.5,501.5 1392.5,496" fill="#b07a28"/><polygon points="1409.6,490.5 1415.6,496 1409.6,501.5 1403.6,496" fill="#b07a28"/><polygon points="1420.7,490.5 1426.7,496 1420.7,501.5 1414.7,496" fill="#b07a28"/><polygon points="1431.9,490.5 1437.9,496 1431.9,501.5 1425.9,496" fill="#b07a28"/><polygon points="1443,490.5 1449,496 1443,501.5 1437,496" fill="#b07a28"/><polygon points="1454.1,490.5 1460.1,496 1454.1,501.5 1448.1,496" fill="#b07a28"/><polygon points="1465.2,490.5 1471.2,496 1465.2,501.5 1459.2,496" fill="#b07a28"/><polygon points="1476.4,490.5 1482.4,496 1476.4,501.5 1470.4,496" fill="#b07a28"/><polygon points="1487.5,490.5 1493.5,496 1487.5,501.5 1481.5,496" fill="#b07a28"/><polygon points="1498.6,490.5 1504.6,496 1498.6,501.5 1492.6,496" fill="#b07a28"/><polygon points="1509.8,490.5 1515.8,496 1509.8,501.5 1503.8,496" fill="#b07a28"/><polygon points="1520.9,489.3 1526.9,494.8 1520.9,500.3 1514.9,494.8" fill="#b07a28"/><polygon points="1532,488 1538,493.5 1532,499 1526,493.5" fill="#b07a28"/><polygon points="1543.2,487 1549.2,492.5 1543.2,498 1537.2,492.5" fill="#b07a28"/><polygon points="1554.3,485.9 1560.3,491.4 1554.3,496.9 1548.3,491.4" fill="#b07a28"/><polygon points="1565.4,484.5 1571.4,490 1565.4,495.5 1559.4,490" fill="#b07a28"/><polygon points="1576.5,482.9 1582.5,488.4 1576.5,493.9 1570.5,488.4" fill="#b07a28"/><polygon points="1587.7,481 1593.7,486.5 1587.7,492 1581.7,486.5" fill="#b07a28"/><polygon points="1598.8,479.8 1604.8,485.3 1598.8,490.8 1592.8,485.3" fill="#b07a28"/><polygon points="1609.9,478.3 1615.9,483.8 1609.9,489.3 1603.9,483.8" fill="#b07a28"/><polygon points="1621.1,476.4 1627.1,481.9 1621.1,487.4 1615.1,481.9" fill="#b07a28"/><polygon points="1632.2,474.3 1638.2,479.8 1632.2,485.3 1626.2,479.8" fill="#b07a28"/><polygon points="1643.3,471.5 1649.3,477 1643.3,482.5 1637.3,477" fill="#b07a28"/><polygon points="1654.5,468.6 1660.5,474.1 1654.5,479.6 1648.5,474.1" fill="#b07a28"/><polygon points="1665.6,465.7 1671.6,471.2 1665.6,476.7 1659.6,471.2" fill="#b07a28"/><polygon points="1676.7,463.8 1682.7,469.3 1676.7,474.8 1670.7,469.3" fill="#b07a28"/><polygon points="1687.8,459.9 1693.8,465.4 1687.8,470.9 1681.8,465.4" fill="#b07a28"/><polygon points="1699,456.1 1705,461.6 1699,467.1 1693,461.6" fill="#b07a28"/><polygon points="1710.1,453.2 1716.1,458.7 1710.1,464.2 1704.1,458.7" fill="#b07a28"/><polygon points="1721.2,449.4 1727.2,454.9 1721.2,460.4 1715.2,454.9" fill="#b07a28"/><polygon points="1732.4,445.6 1738.4,451.1 1732.4,456.6 1726.4,451.1" fill="#b07a28"/><polygon points="1743.5,442.7 1749.5,448.2 1743.5,453.7 1737.5,448.2" fill="#b07a28"/>
<polyline fill="none" stroke="#bb1ac4" stroke-width="2" stroke-linejoin="round" points="1298.3,491.8 1309.4,491.8 1320.6,491.8 1331.7,491.8 1342.8,491.8 1354,491.8 1365.1,491.8 1376.2,491.8 1387.3,491.8 1398.5,491.8 1409.6,491.8 1420.7,491.8 1431.9,491.8 1443,491.8 1454.1,491.8 1465.2,491.8 1476.4,491.8 1487.5,491.8 1498.6,489.4 1509.8,488.7 1520.9,487.1 1532,484.4 1543.2,481.3 1554.3,477.4 1565.4,473.5 1576.5,469.2 1587.7,463.5 1598.8,458.2 1609.9,453.4 1621.1,447 1632.2,439.8 1643.3,433.2 1654.5,427.1 1665.6,419.5 1676.7,412.7 1687.8,405.1 1699,399.3 1710.1,392.6 1721.2,385 1732.4,379.2 1743.5,372.5"/><polygon points="1298.3,499.5 1292.3,488 1304.3,488" fill="#c414cc"/><polygon points="1309.4,499.5 1303.4,488 1315.4,488" fill="#c414cc"/><polygon points="1320.6,499.5 1314.6,488 1326.6,488" fill="#c414cc"/><polygon points="1331.7,499.5 1325.7,488 1337.7,488" fill="#c414cc"/><polygon points="1342.8,499.5 1336.8,488 1348.8,488" fill="#c414cc"/><polygon points="1354,499.5 1348,488 1360,488" fill="#c414cc"/><polygon points="1365.1,499.5 1359.1,488 1371.1,488" fill="#c414cc"/><polygon points="1376.2,499.5 1370.2,488 1382.2,488" fill="#c414cc"/><polygon points="1387.3,499.5 1381.3,488 1393.3,488" fill="#c414cc"/><polygon points="1398.5,499.5 1392.5,488 1404.5,488" fill="#c414cc"/><polygon points="1409.6,499.5 1403.6,488 1415.6,488" fill="#c414cc"/><polygon points="1420.7,499.5 1414.7,488 1426.7,488" fill="#c414cc"/><polygon points="1431.9,499.5 1425.9,488 1437.9,488" fill="#c414cc"/><polygon points="1443,499.5 1437,488 1449,488" fill="#c414cc"/><polygon points="1454.1,499.5 1448.1,488 1460.1,488" fill="#c414cc"/><polygon points="1465.2,499.5 1459.2,488 1471.2,488" fill="#c414cc"/><polygon points="1476.4,499.5 1470.4,488 1482.4,488" fill="#c414cc"/><polygon points="1487.5,499.5 1481.5,488 1493.5,488" fill="#c414cc"/><polygon points="1498.6,497.1 1492.6,485.6 1504.6,485.6" fill="#c414cc"/><polygon points="1509.8,496.4 1503.8,484.9 1515.8,484.9" fill="#c414cc"/><polygon points="1520.9,494.8 1514.9,483.3 1526.9,483.3" fill="#c414cc"/><polygon points="1532,492.1 1526,480.6 1538,480.6" fill="#c414cc"/><polygon points="1543.2,489 1537.2,477.5 1549.2,477.5" fill="#c414cc"/><polygon points="1554.3,485.1 1548.3,473.6 1560.3,473.6" fill="#c414cc"/><polygon points="1565.4,481.2 1559.4,469.7 1571.4,469.7" fill="#c414cc"/><polygon points="1576.5,476.9 1570.5,465.4 1582.5,465.4" fill="#c414cc"/><polygon points="1587.7,471.2 1581.7,459.7 1593.7,459.7" fill="#c414cc"/><polygon points="1598.8,465.9 1592.8,454.4 1604.8,454.4" fill="#c414cc"/><polygon points="1609.9,461.1 1603.9,449.6 1615.9,449.6" fill="#c414cc"/><polygon points="1621.1,454.7 1615.1,443.2 1627.1,443.2" fill="#c414cc"/><polygon points="1632.2,447.5 1626.2,436 1638.2,436" fill="#c414cc"/><polygon points="1643.3,440.9 1637.3,429.4 1649.3,429.4" fill="#c414cc"/><polygon points="1654.5,434.8 1648.5,423.3 1660.5,423.3" fill="#c414cc"/><polygon points="1665.6,427.2 1659.6,415.7 1671.6,415.7" fill="#c414cc"/><polygon points="1676.7,420.4 1670.7,408.9 1682.7,408.9" fill="#c414cc"/><polygon points="1687.8,412.8 1681.8,401.3 1693.8,401.3" fill="#c414cc"/><polygon points="1699,407 1693,395.5 1705,395.5" fill="#c414cc"/><polygon points="1710.1,400.3 1704.1,388.8 1716.1,388.8" fill="#c414cc"/><polygon points="1721.2,392.7 1715.2,381.2 1727.2,381.2" fill="#c414cc"/><polygon points="1732.4,386.9 1726.4,375.4 1738.4,375.4" fill="#c414cc"/><polygon points="1743.5,380.2 1737.5,368.7 1749.5,368.7" fill="#c414cc"/>
<polyline fill="none" stroke="#178017" stroke-width="2" stroke-linejoin="round" points="1298.3,497 1309.4,497 1320.6,497 1331.7,497 1342.8,497 1354,497 1365.1,497 1376.2,497 1387.3,497 1398.5,497 1409.6,497 1420.7,497 1431.9,497 1443,495.5 1454.1,494 1465.2,490.5 1476.4,484.5 1487.5,475.5 1498.6,463.5 1509.8,451.5 1520.9,440.5 1532,426.2 1543.2,413.3 1554.3,400.4 1565.4,386.9 1576.5,374.7 1587.7,361.2 1598.8,348.3 1609.9,339.2 1621.1,324.5 1632.2,316.6 1643.3,306.2 1654.5,299 1665.6,290.2 1676.7,279.8 1687.8,275.8 1699,266.2 1710.1,259.1 1721.2,254.3 1732.4,251.9 1743.5,247.9"/><polygon points="1298.3,489.5 1292.8,500.7 1303.8,500.7" fill="#128a12"/><polygon points="1309.4,489.5 1303.9,500.7 1314.9,500.7" fill="#128a12"/><polygon points="1320.6,489.5 1315.1,500.7 1326.1,500.7" fill="#128a12"/><polygon points="1331.7,489.5 1326.2,500.7 1337.2,500.7" fill="#128a12"/><polygon points="1342.8,489.5 1337.3,500.7 1348.3,500.7" fill="#128a12"/><polygon points="1354,489.5 1348.5,500.7 1359.5,500.7" fill="#128a12"/><polygon points="1365.1,489.5 1359.6,500.7 1370.6,500.7" fill="#128a12"/><polygon points="1376.2,489.5 1370.7,500.7 1381.7,500.7" fill="#128a12"/><polygon points="1387.3,489.5 1381.8,500.7 1392.8,500.7" fill="#128a12"/><polygon points="1398.5,489.5 1393,500.7 1404,500.7" fill="#128a12"/><polygon points="1409.6,489.5 1404.1,500.7 1415.1,500.7" fill="#128a12"/><polygon points="1420.7,489.5 1415.2,500.7 1426.2,500.7" fill="#128a12"/><polygon points="1431.9,489.5 1426.4,500.7 1437.4,500.7" fill="#128a12"/><polygon points="1443,488 1437.5,499.2 1448.5,499.2" fill="#128a12"/><polygon points="1454.1,486.5 1448.6,497.7 1459.6,497.7" fill="#128a12"/><polygon points="1465.2,483 1459.8,494.2 1470.8,494.2" fill="#128a12"/><polygon points="1476.4,477 1470.9,488.2 1481.9,488.2" fill="#128a12"/><polygon points="1487.5,468 1482,479.2 1493,479.2" fill="#128a12"/><polygon points="1498.6,456 1493.1,467.2 1504.1,467.2" fill="#128a12"/><polygon points="1509.8,444 1504.3,455.2 1515.3,455.2" fill="#128a12"/><polygon points="1520.9,433 1515.4,444.2 1526.4,444.2" fill="#128a12"/><polygon points="1532,418.7 1526.5,429.9 1537.5,429.9" fill="#128a12"/><polygon points="1543.2,405.8 1537.7,417 1548.7,417" fill="#128a12"/><polygon points="1554.3,392.9 1548.8,404.1 1559.8,404.1" fill="#128a12"/><polygon points="1565.4,379.4 1559.9,390.6 1570.9,390.6" fill="#128a12"/><polygon points="1576.5,367.2 1571,378.4 1582,378.4" fill="#128a12"/><polygon points="1587.7,353.7 1582.2,364.9 1593.2,364.9" fill="#128a12"/><polygon points="1598.8,340.8 1593.3,352 1604.3,352" fill="#128a12"/><polygon points="1609.9,331.7 1604.4,342.9 1615.4,342.9" fill="#128a12"/><polygon points="1621.1,317 1615.6,328.2 1626.6,328.2" fill="#128a12"/><polygon points="1632.2,309.1 1626.7,320.3 1637.7,320.3" fill="#128a12"/><polygon points="1643.3,298.7 1637.8,309.9 1648.8,309.9" fill="#128a12"/><polygon points="1654.5,291.5 1649,302.7 1660,302.7" fill="#128a12"/><polygon points="1665.6,282.7 1660.1,293.9 1671.1,293.9" fill="#128a12"/><polygon points="1676.7,272.3 1671.2,283.5 1682.2,283.5" fill="#128a12"/><polygon points="1687.8,268.3 1682.3,279.5 1693.3,279.5" fill="#128a12"/><polygon points="1699,258.7 1693.5,269.9 1704.5,269.9" fill="#128a12"/><polygon points="1710.1,251.6 1704.6,262.8 1715.6,262.8" fill="#128a12"/><polygon points="1721.2,246.8 1715.7,258 1726.7,258" fill="#128a12"/><polygon points="1732.4,244.4 1726.9,255.6 1737.9,255.6" fill="#128a12"/><polygon points="1743.5,240.4 1738,251.6 1749,251.6" fill="#128a12"/>
<polyline fill="none" stroke="#0a0ac0" stroke-width="2" stroke-linejoin="round" points="1298.3,495.2 1309.4,495.2 1320.6,495.2 1331.7,495.2 1342.8,495.2 1354,495.2 1365.1,495.2 1376.2,495.2 1387.3,495.2 1398.5,495.2 1409.6,495.2 1420.7,495.2 1431.9,495.2 1443,495.2 1454.1,495.2 1465.2,490.8 1476.4,488.7 1487.5,486 1498.6,477 1509.8,460.3 1520.9,433.3 1532,393.7 1543.2,349 1554.3,302.2 1565.4,270.2 1576.5,245.5 1587.7,225.5 1598.8,219.1 1609.9,215.9 1621.1,210.3 1632.2,208.7 1643.3,212.7 1654.5,204 1665.6,208 1676.7,204 1687.8,204.8 1699,203.2 1710.1,209.5 1721.2,200 1732.4,208.7 1743.5,203.2"/><rect x="1292.8" y="489.7" width="11" height="11" fill="#0a0acc"/><rect x="1303.9" y="489.7" width="11" height="11" fill="#0a0acc"/><rect x="1315.1" y="489.7" width="11" height="11" fill="#0a0acc"/><rect x="1326.2" y="489.7" width="11" height="11" fill="#0a0acc"/><rect x="1337.3" y="489.7" width="11" height="11" fill="#0a0acc"/><rect x="1348.5" y="489.7" width="11" height="11" fill="#0a0acc"/><rect x="1359.6" y="489.7" width="11" height="11" fill="#0a0acc"/><rect x="1370.7" y="489.7" width="11" height="11" fill="#0a0acc"/><rect x="1381.8" y="489.7" width="11" height="11" fill="#0a0acc"/><rect x="1393" y="489.7" width="11" height="11" fill="#0a0acc"/><rect x="1404.1" y="489.7" width="11" height="11" fill="#0a0acc"/><rect x="1415.2" y="489.7" width="11" height="11" fill="#0a0acc"/><rect x="1426.4" y="489.7" width="11" height="11" fill="#0a0acc"/><rect x="1437.5" y="489.7" width="11" height="11" fill="#0a0acc"/><rect x="1448.6" y="489.7" width="11" height="11" fill="#0a0acc"/><rect x="1459.8" y="485.3" width="11" height="11" fill="#0a0acc"/><rect x="1470.9" y="483.2" width="11" height="11" fill="#0a0acc"/><rect x="1482" y="480.5" width="11" height="11" fill="#0a0acc"/><rect x="1493.1" y="471.5" width="11" height="11" fill="#0a0acc"/><rect x="1504.3" y="454.8" width="11" height="11" fill="#0a0acc"/><rect x="1515.4" y="427.8" width="11" height="11" fill="#0a0acc"/><rect x="1526.5" y="388.2" width="11" height="11" fill="#0a0acc"/><rect x="1537.7" y="343.5" width="11" height="11" fill="#0a0acc"/><rect x="1548.8" y="296.7" width="11" height="11" fill="#0a0acc"/><rect x="1559.9" y="264.7" width="11" height="11" fill="#0a0acc"/><rect x="1571" y="240" width="11" height="11" fill="#0a0acc"/><rect x="1582.2" y="220" width="11" height="11" fill="#0a0acc"/><rect x="1593.3" y="213.6" width="11" height="11" fill="#0a0acc"/><rect x="1604.4" y="210.4" width="11" height="11" fill="#0a0acc"/><rect x="1615.6" y="204.8" width="11" height="11" fill="#0a0acc"/><rect x="1626.7" y="203.2" width="11" height="11" fill="#0a0acc"/><rect x="1637.8" y="207.2" width="11" height="11" fill="#0a0acc"/><rect x="1649" y="198.5" width="11" height="11" fill="#0a0acc"/><rect x="1660.1" y="202.5" width="11" height="11" fill="#0a0acc"/><rect x="1671.2" y="198.5" width="11" height="11" fill="#0a0acc"/><rect x="1682.3" y="199.3" width="11" height="11" fill="#0a0acc"/><rect x="1693.5" y="197.7" width="11" height="11" fill="#0a0acc"/><rect x="1704.6" y="204" width="11" height="11" fill="#0a0acc"/><rect x="1715.7" y="194.5" width="11" height="11" fill="#0a0acc"/><rect x="1726.9" y="203.2" width="11" height="11" fill="#0a0acc"/><rect x="1738" y="197.7" width="11" height="11" fill="#0a0acc"/>
<line x1="1795" y1="178.5" x2="1835.7" y2="178.5" stroke="#0a0ac0" stroke-width="2"/>
<rect x="1809.3" y="173" width="11" height="11" fill="#0a0acc"/>
<text x="1856" y="188" font-size="30">crRNA1</text>
<line x1="1795" y1="226.9" x2="1835.7" y2="226.9" stroke="#178017" stroke-width="2"/>
<polygon points="1814.8,220.2 1809.3,230.2 1820.3,230.2" fill="#128a12"/>
<text x="1856" y="236.4" font-size="30">crRNA2</text>
<line x1="1795" y1="274.9" x2="1835.7" y2="274.9" stroke="#bb1ac4" stroke-width="2"/>
<polygon points="1814.8,281.6 1809.3,271.6 1820.3,271.6" fill="#c414cc"/>
<text x="1856" y="284.4" font-size="30">crRNA3</text>
<line x1="1795" y1="323.3" x2="1835.7" y2="323.3" stroke="#b07a28" stroke-width="2"/>
<polygon points="1814.8,317.8 1820.3,323.3 1814.8,328.8 1809.3,323.3" fill="#b07a28"/>
<text x="1856" y="332.8" font-size="30">crRNA4</text>
<line x1="1795" y1="371.3" x2="1835.7" y2="371.3" stroke="#f0157a" stroke-width="2"/>
<circle cx="1814.8" cy="371.3" r="5.2" fill="none" stroke="#f0157a" stroke-width="3.2"/>
<text x="1856" y="380.8" font-size="30">crRNA5</text>
<line x1="1795" y1="420.2" x2="1835.7" y2="420.2" stroke="#000" stroke-width="2"/>
<rect x="1809.3" y="414.7" width="11" height="11" fill="none" stroke="#000" stroke-width="3.3"/>
<text x="1856" y="429.7" font-size="30">crRNA6</text>
<line x1="1795" y1="467.2" x2="1835.7" y2="467.2" stroke="#686868" stroke-width="2"/>
<polygon points="1814.8,460.3 1809.5,470.7 1820.1,470.7" fill="none" stroke="#686868" stroke-width="3.2" stroke-linejoin="miter"/>
<text x="1856" y="476.7" font-size="30">crRNA7</text>
<line x1="1973.4" y1="159.5" x2="1973.4" y2="200.2" stroke="#000" stroke-width="3.5"/>
<line x1="1973.4" y1="222" x2="1973.4" y2="484" stroke="#000" stroke-width="3.5"/>
<text x="1980" y="193.5" font-size="30" class="b">suboptimal</text>
<text x="1980" y="380.9" font-size="30" class="b">canonical</text>
<line x1="516.4" y1="729.8" x2="1594.2" y2="729.8" stroke="#000" stroke-width="2.8"/>
<line x1="516.4" y1="770" x2="1594.2" y2="770" stroke="#000" stroke-width="2.8"/>
<line x1="516.4" y1="969.6" x2="1594.2" y2="969.6" stroke="#000" stroke-width="2.8"/>
<line x1="516.4" y1="1250" x2="1594.2" y2="1250" stroke="#000" stroke-width="3"/>
<text x="605.8" y="756.1" font-size="28.2" text-anchor="middle">Gene</text>
<text x="957.1" y="756.1" font-size="28.2" text-anchor="middle">Spacer</text>
<text x="1274.5" y="756.1" font-size="28.2" text-anchor="middle">PAM</text>
<text x="1463.2" y="756.1" font-size="28.2" text-anchor="middle">crRNA name</text>
<text x="708.5" y="796.3" font-size="28.2" text-anchor="start">GGATTTGGATGATCTATGTGGCA</text>
<text x="1231.5" y="796.3" font-size="28.2" text-anchor="start">TTTA</text>
<text x="1462.5" y="796.3" font-size="28.2" text-anchor="middle">crRNA1</text>
<text x="708.5" y="836.6" font-size="28.2" text-anchor="start">GTGGTGCATCGTGTTGTCT</text>
<text x="1231.5" y="836.6" font-size="28.2" text-anchor="start">TTTG</text>
<text x="1462.5" y="836.6" font-size="28.2" text-anchor="middle">crRNA2</text>
<text x="708.5" y="876.4" font-size="28.2" text-anchor="start">GATGATCTATGTGGCAACGG</text>
<text x="1231.5" y="876.4" font-size="28.2" text-anchor="start">TTTG</text>
<text x="1462.5" y="876.4" font-size="28.2" text-anchor="middle">crRNA3</text>
<text x="708.5" y="916.3" font-size="28.2" text-anchor="start">CCACATAGATCATCCAAATC</text>
<text x="1231.5" y="916.3" font-size="28.2" text-anchor="start">GTTG</text>
<text x="1462.5" y="916.3" font-size="28.2" text-anchor="middle">crRNA4</text>
<text x="708.5" y="955.8" font-size="28.2" text-anchor="start">ACACAATTAGTGATTGGTTG</text>
<text x="1231.5" y="955.8" font-size="28.2" text-anchor="start">CTTA</text>
<text x="1462.5" y="955.8" font-size="28.2" text-anchor="middle">crRNA5</text>
<text x="708.5" y="996.2" font-size="28.2" text-anchor="start">TAACGTGAGTCTTGTAAAAC</text>
<text x="1231.5" y="996.2" font-size="28.2" text-anchor="start">TTGT</text>
<text x="1462.5" y="996.2" font-size="28.2" text-anchor="middle">crRNA1</text>
<text x="708.5" y="1036.3" font-size="28.2" text-anchor="start">TTGCTTTCGTGGTATTCTTG</text>
<text x="1231.5" y="1036.3" font-size="28.2" text-anchor="start">TTTC</text>
<text x="1462.5" y="1036.3" font-size="28.2" text-anchor="middle">crRNA2</text>
<text x="708.5" y="1076.2" font-size="28.2" text-anchor="start">GTGGTATTCTTGCTAGTTAC</text>
<text x="1231.5" y="1076.2" font-size="28.2" text-anchor="start">TTTC</text>
<text x="1462.5" y="1076.2" font-size="28.2" text-anchor="middle">crRNA3</text>
<text x="708.5" y="1116.2" font-size="28.2" text-anchor="start">CAAGACTCACGTTAACAATA</text>
<text x="1231.5" y="1116.2" font-size="28.2" text-anchor="start">TTTA</text>
<text x="1462.5" y="1116.2" font-size="28.2" text-anchor="middle">crRNA4</text>
<text x="708.5" y="1156.2" font-size="28.2" text-anchor="start">CGTTTACTCTCGTGTTAAAA</text>
<text x="1231.5" y="1156.2" font-size="28.2" text-anchor="start">TTTA</text>
<text x="1462.5" y="1156.2" font-size="28.2" text-anchor="middle">crRNA5</text>
<text x="708.5" y="1196.2" font-size="28.2" text-anchor="start">CTCTCGTGTTAAAAATCTGA</text>
<text x="1231.5" y="1196.2" font-size="28.2" text-anchor="start">TTTA</text>
<text x="1462.5" y="1196.2" font-size="28.2" text-anchor="middle">crRNA6</text>
<text x="708.5" y="1236.1" font-size="28.2" text-anchor="start">ACACGAGAGTAAACGTAAAA</text>
<text x="1231.5" y="1236.1" font-size="28.2" text-anchor="start">TTTA</text>
<text x="1462.5" y="1236.1" font-size="28.2" text-anchor="middle">crRNA7</text>
<text x="605.8" y="872.7" font-size="28.2" text-anchor="middle">Orf1ab</text>
<text x="605.6" y="1107.2" font-size="28.2" text-anchor="middle">Envelope</text>
<text x="605.7" y="1141.1" font-size="28.2" text-anchor="middle">(E)</text>
</svg>
</body></html>
